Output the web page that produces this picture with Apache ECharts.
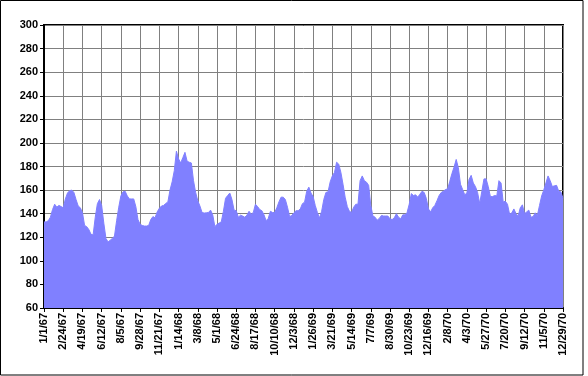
<!DOCTYPE html>
<html>
<head>
<meta charset="utf-8">
<script src="https://cdn.jsdelivr.net/npm/echarts@6/dist/echarts.min.js"></script>
<style>
  html, body { margin: 0; padding: 0; background: #fff; }
  #chart { width: 588px; height: 376px; }
</style>
</head>
<body>
<div id="chart"></div>
<script>
// tick labels, one every 54 days from 1/1/67
const tickLabels = ['1/1/67', '2/24/67', '4/19/67', '6/12/67', '8/5/67', '9/28/67', '11/21/67',
  '1/14/68', '3/8/68', '5/1/68', '6/24/68', '8/17/68', '10/10/68', '12/3/68',
  '1/26/69', '3/21/69', '5/14/69', '7/7/69', '8/30/69', '10/23/69', '12/16/69',
  '2/8/70', '4/3/70', '5/27/70', '7/20/70', '9/12/70', '11/5/70', '12/29/70']
const tickStep = 54 // days

// one reading every 6 days, day 0 = 1/1/67
const sampleStep = 6
const values = [
  133, 133, 134, 137, 143.5, 148, 145.5, 147, 146, 145,
  152.5, 157.5, 159.5, 160, 158, 152, 146.5, 145, 141, 130,
  129, 126.5, 122.5, 122, 137, 148.5, 152, 147, 132, 119,
  116, 117.5, 119, 121, 134, 145.5, 155, 158.5, 159, 155,
  152.5, 152.5, 152.5, 146, 135, 131, 130, 129.5, 129.5, 130,
  135, 137.5, 136.5, 141.5, 144.5, 146.5, 147, 148.6, 150, 160,
  167, 176.5, 193, 186.5, 183, 187.5, 192, 184.5, 183.6, 183,
  168, 158, 151, 146.5, 141, 140.5, 140.7, 141, 143, 139,
  129, 131, 132, 133, 142, 153, 155.4, 157.5, 152, 143,
  142.5, 137, 138.7, 138, 137, 138.7, 142, 139.5, 141, 148,
  146, 143.5, 142.5, 139, 134, 136, 142, 141, 141, 145,
  150, 154, 154, 152, 145.5, 137.5, 138.5, 140.7, 142.5, 142.5,
  144, 148.5, 149.7, 159, 162.5, 157.5, 154.5, 147, 141, 136.4,
  142, 152, 158, 158.5, 167, 172, 175, 183.6, 182, 175,
  165, 154, 146, 142, 141, 145.5, 148, 148, 168, 172,
  168, 166.7, 164, 147, 138, 137, 134.5, 136, 138.5, 138,
  138, 138, 135.6, 135, 136.5, 140, 137, 135.6, 139, 139,
  141, 148, 157, 155.4, 156, 154, 156.5, 159, 158, 153,
  144, 141.5, 145, 147, 151, 155.4, 158, 159, 160.5, 161,
  167.5, 174, 179.5, 186, 179, 165, 160.5, 156, 157.5, 169,
  172.5, 166, 163, 158, 148.5, 159, 169.5, 169.5, 163, 154.5,
  154.5, 155.4, 155, 168, 166, 150, 150.5, 148, 139.5, 140.5,
  144, 140, 138, 145, 147.5, 140, 141.5, 143, 137, 137.5,
  140.7, 138.5, 147, 155, 160, 166, 172, 168, 163, 163.6,
  164, 159, 158.5, 153
]

const chart = echarts.init(document.getElementById('chart'))

const seriesData = values.map((v, i) => [i * sampleStep, v])

const labelFont = {
  fontFamily: 'Liberation Sans, Arial, sans-serif',
  fontSize: 11,
  fontWeight: 'bold',
  color: '#000'
}

chart.setOption({
  animation: false,
  backgroundColor: '#fff',
  grid: {
    left: 44, top: 25, right: 25, bottom: 68,
    show: true,
    borderColor: '#000',
    borderWidth: 2,
    backgroundColor: '#fff'
  },
  graphic: [{
    type: 'rect',
    shape: { x: 0.5, y: 0.5, width: 582.5, height: 374.5 },
    style: { fill: 'none', stroke: '#000', lineWidth: 1 },
    silent: true,
    z: -1
  }],
  xAxis: {
    type: 'value',
    min: 0,
    max: (tickLabels.length - 1) * tickStep,
    interval: tickStep,
    axisLine: { lineStyle: { color: '#000', width: 2 } },
    axisTick: { show: true, length: 4, lineStyle: { color: '#000' } },
    splitLine: { show: true, lineStyle: { color: '#808080', width: 1 } },
    axisLabel: Object.assign({
      rotate: 90,
      margin: 5,
      showMinLabel: true,
      showMaxLabel: true,
      formatter: v => tickLabels[Math.round(v / tickStep)] || ''
    }, labelFont)
  },
  yAxis: {
    type: 'value',
    min: 60,
    max: 300,
    interval: 20,
    axisLine: { show: true, lineStyle: { color: '#000', width: 2 } },
    axisTick: { show: true, length: 4, lineStyle: { color: '#000' } },
    splitLine: { show: true, lineStyle: { color: '#808080', width: 1 } },
    axisLabel: Object.assign({ margin: 6 }, labelFont)
  },
  series: [{
    type: 'line',
    data: seriesData,
    showSymbol: false,
    lineStyle: { color: '#8080FF', width: 1 },
    itemStyle: { color: '#8080FF' },
    areaStyle: { color: '#8080FF', opacity: 1 }
  }]
})
</script>
</body>
</html>
